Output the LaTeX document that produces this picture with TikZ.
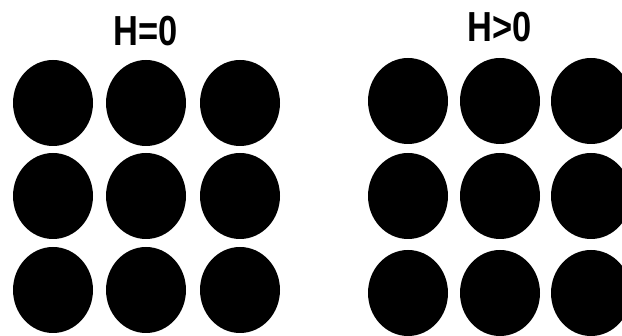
\documentclass[tikz,border=0pt]{standalone}
\usepackage{fontspec}
\setmainfont{Liberation Sans}
\usetikzlibrary{positioning,shapes.geometric}

\begin{document}
\begin{tikzpicture}[x=1pt,y=-1pt,
  dot/.style={ellipse,fill=black,inner sep=0pt,minimum width=80pt,minimum height=86pt},
  title/.style={font=\fontsize{42}{42}\selectfont\bfseries,xscale=0.82,inner sep=0pt}
]
  \useasboundingbox (0,0) rectangle (622,336);
  \clip (0,0) rectangle (622,336);

  % H = 0
  \node[title] (hzero) at (146,31) {H=0};
  \foreach \i/\x in {1/53,2/146,3/240} {
    \foreach \j/\y in {1/103,2/196,3/290} {
      \node[dot] (a\i\j) at (\x,\y) {};
    }
  }

  % H > 0
  \node[title] (hpos) at (500,27) {H>0};
  \foreach \i/\x in {1/408,2/500,3/591} {
    \foreach \j/\y in {1/101,2/196,3/293} {
      \node[dot] (b\i\j) at (\x,\y) {};
    }
  }
\end{tikzpicture}
\end{document}
